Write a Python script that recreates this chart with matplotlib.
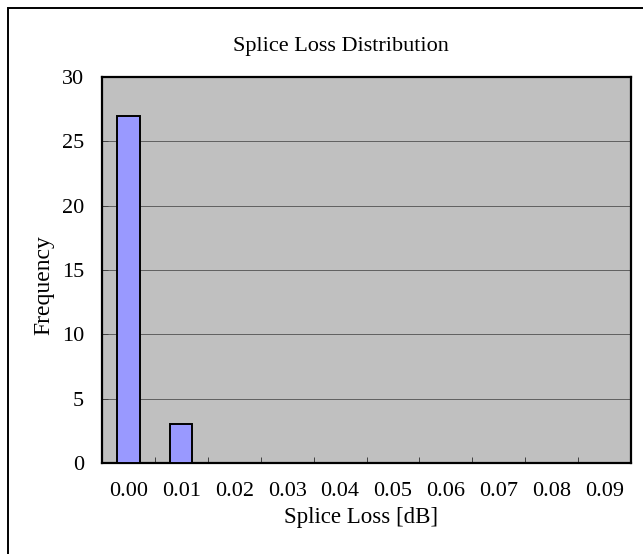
import numpy as np
import matplotlib.pyplot as plt
from matplotlib.patches import Rectangle

plt.rcParams['font.family'] = ['Liberation Serif', 'DejaVu Serif']

# data
loss_bins = ['0.00', '0.01', '0.02', '0.03', '0.04', '0.05', '0.06', '0.07', '0.08', '0.09']
frequency = [27, 3, 0, 0, 0, 0, 0, 0, 0, 0]
y_ticks = [0, 5, 10, 15, 20, 25, 30]

fig = plt.figure(figsize=(6.43, 5.54), dpi=100)

# outer chart border, right/bottom edges fall outside the picture
fig.patches.append(Rectangle((8 / 643, -10 / 554), 650 / 643, 556 / 554,
                             transform=fig.transFigure, fill=False,
                             edgecolor='black', linewidth=1.4))

ax = fig.add_axes([102 / 643, 1 - 463 / 554, 529 / 643, 386 / 554])
ax.set_facecolor('#C0C0C0')

x = np.arange(len(loss_bins))
edges = ['black' if f > 0 else 'none' for f in frequency]
ax.bar(x, frequency, width=0.42, color='#9999FF', edgecolor=edges,
       linewidth=1.4, zorder=3)

ax.set_xlim(-0.5, len(loss_bins) - 0.5)
ax.set_ylim(0, 30)
ax.set_yticks(y_ticks)
ax.yaxis.grid(True, color='#606060', linewidth=0.7, zorder=0)
ax.set_axisbelow(True)

ax.set_xticks(x)
ax.set_xticklabels(loss_bins)
ax.tick_params(axis='x', which='major', length=0, pad=14, labelsize=16)
ax.set_xticks(np.arange(0.5, len(loss_bins) - 0.5, 1.0), minor=True)
ax.tick_params(axis='x', which='minor', direction='in', length=4, width=0.7,
               color='#404040')
ax.tick_params(axis='y', direction='in', length=4, width=0.7, pad=13,
               labelsize=16, color='#404040')

for s in ax.spines.values():
    s.set_linewidth(1.6)
    s.set_color('black')

ax.set_xlabel('Splice Loss [dB]', fontsize=16.5)
ax.xaxis.set_label_coords(0.49, -0.115)
ax.set_ylabel('Frequency', fontsize=17)
ax.yaxis.set_label_coords(-0.09, 0.46)
fig.text(341 / 643, 1 - 46 / 554, 'Splice Loss Distribution', ha='center',
         va='center', fontsize=16)

fig.savefig('out.png', dpi=100)
